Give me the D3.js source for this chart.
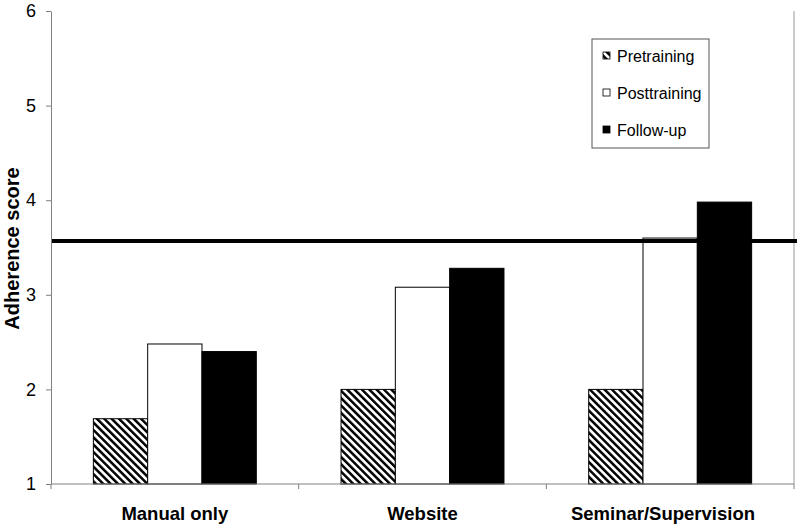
<!DOCTYPE html>
<html><head><meta charset="utf-8">
<script src="https://cdn.jsdelivr.net/npm/d3@7"></script>
<style>body{margin:0;background:#fff}svg{display:block}text{font-family:"Liberation Sans",Arial,sans-serif}</style>
</head><body><svg id="c" width="800" height="528"></svg>
<script>
const categories = ["Manual only", "Website", "Seminar/Supervision"];
const seriesNames = ["Pretraining", "Posttraining", "Follow-up"];
const pretraining = [1.69, 2.0, 2.0];
const posttraining = [2.48, 3.08, 3.60];
const followup = [2.40, 3.28, 3.98];
const referenceLine = 3.57;
const yTicks = [1, 2, 3, 4, 5, 6];
const series = [pretraining, posttraining, followup];

const svg = d3.select("#c");
const m = {l: 51, r: 6, t: 11, b: 44};
const W = 800, H = 528;
const x0 = d3.scaleBand().domain(categories).range([m.l, W - m.r]).paddingInner(0).paddingOuter(0);
const x1 = d3.scaleBand().domain(seriesNames).range([0, x0.bandwidth()]).paddingInner(0).paddingOuter(0.78);
const y = d3.scaleLinear().domain([1, 6]).range([H - m.b, m.t]);

const defs = svg.append("defs");
const pat = defs.append("pattern").attr("id", "hatch").attr("patternUnits", "userSpaceOnUse")
  .attr("width", 5.2).attr("height", 5.2).attr("patternTransform", "rotate(-45)");
pat.append("rect").attr("width", 5.2).attr("height", 5.2).attr("fill", "#fff");
pat.append("rect").attr("x", 0).attr("width", 2.5).attr("height", 5.2).attr("fill", "#000");
const fills = ["url(#hatch)", "#fff", "#000"];

// right border of plot area
svg.append("line").attr("x1", W - m.r).attr("x2", W - m.r).attr("y1", m.t).attr("y2", H - m.b)
  .attr("stroke", "#999").attr("stroke-width", 1);

// bars
const g = svg.append("g");
categories.forEach((c, i) => {
  seriesNames.forEach((s, j) => {
    g.append("rect")
      .attr("x", x0(c) + x1(s)).attr("width", x1.bandwidth())
      .attr("y", y(series[j][i])).attr("height", y(1) - y(series[j][i]))
      .attr("fill", fills[j]).attr("stroke", "#000").attr("stroke-width", 1);
  });
});

// reference line
svg.append("line").attr("x1", m.l).attr("x2", W - 3).attr("y1", y(referenceLine)).attr("y2", y(referenceLine))
  .attr("stroke", "#000").attr("stroke-width", 4);

// y axis
const ya = svg.append("g").attr("transform", `translate(${m.l},0)`)
  .call(d3.axisLeft(y).tickValues(yTicks).tickFormat(d3.format("d")).tickSize(5).tickSizeOuter(0));
ya.select(".domain").attr("stroke", "#808080");
ya.selectAll(".tick line").attr("stroke", "#808080");
ya.selectAll(".tick text").attr("font-size", 18).attr("fill", "#000").attr("x", -15)
  .attr("font-family", "Liberation Sans, Arial, sans-serif");

// x axis
const xa = svg.append("g").attr("transform", `translate(0,${y(1)})`);
xa.append("line").attr("x1", m.l).attr("x2", W - m.r).attr("stroke", "#808080");
const bounds = categories.map(c => x0(c)).concat([x0.range()[1]]);
bounds.forEach(b => xa.append("line").attr("x1", b).attr("x2", b).attr("y1", 0).attr("y2", 5).attr("stroke", "#808080"));
categories.forEach(c => {
  const t = xa.append("text").attr("x", x0(c) + x0.bandwidth() / 2).attr("y", 36).attr("text-anchor", "middle")
    .attr("font-size", 18.5).attr("font-weight", "bold").text(c);
  // keep labels clear of the right edge margin
  const w = t.node().getComputedTextLength();
  const maxRight = W - 45;
  const cx = Math.min(x0(c) + x0.bandwidth() / 2, maxRight - w / 2);
  t.attr("x", cx);
});

// y title
svg.append("text").attr("transform", `translate(19,${(y(1) + y(6)) / 2 + 1}) rotate(-90)`)
  .attr("text-anchor", "middle").attr("font-size", 20).attr("font-weight", "bold").text("Adherence score");

// legend
const lg = svg.append("g").attr("transform", "translate(592,39)");
lg.append("rect").attr("width", 117).attr("height", 109).attr("fill", "#fff").attr("stroke", "#555").attr("stroke-width", 1);
seriesNames.forEach((s, j) => {
  const yy = 17 + j * 37;
  lg.append("rect").attr("x", 11).attr("y", yy - 4).attr("width", 7).attr("height", 7)
    .attr("fill", fills[j]).attr("stroke", "#000").attr("stroke-width", 0.8);
  lg.append("text").attr("x", 25).attr("y", yy + 6).attr("font-size", 16).text(s);
});
</script></body></html>
